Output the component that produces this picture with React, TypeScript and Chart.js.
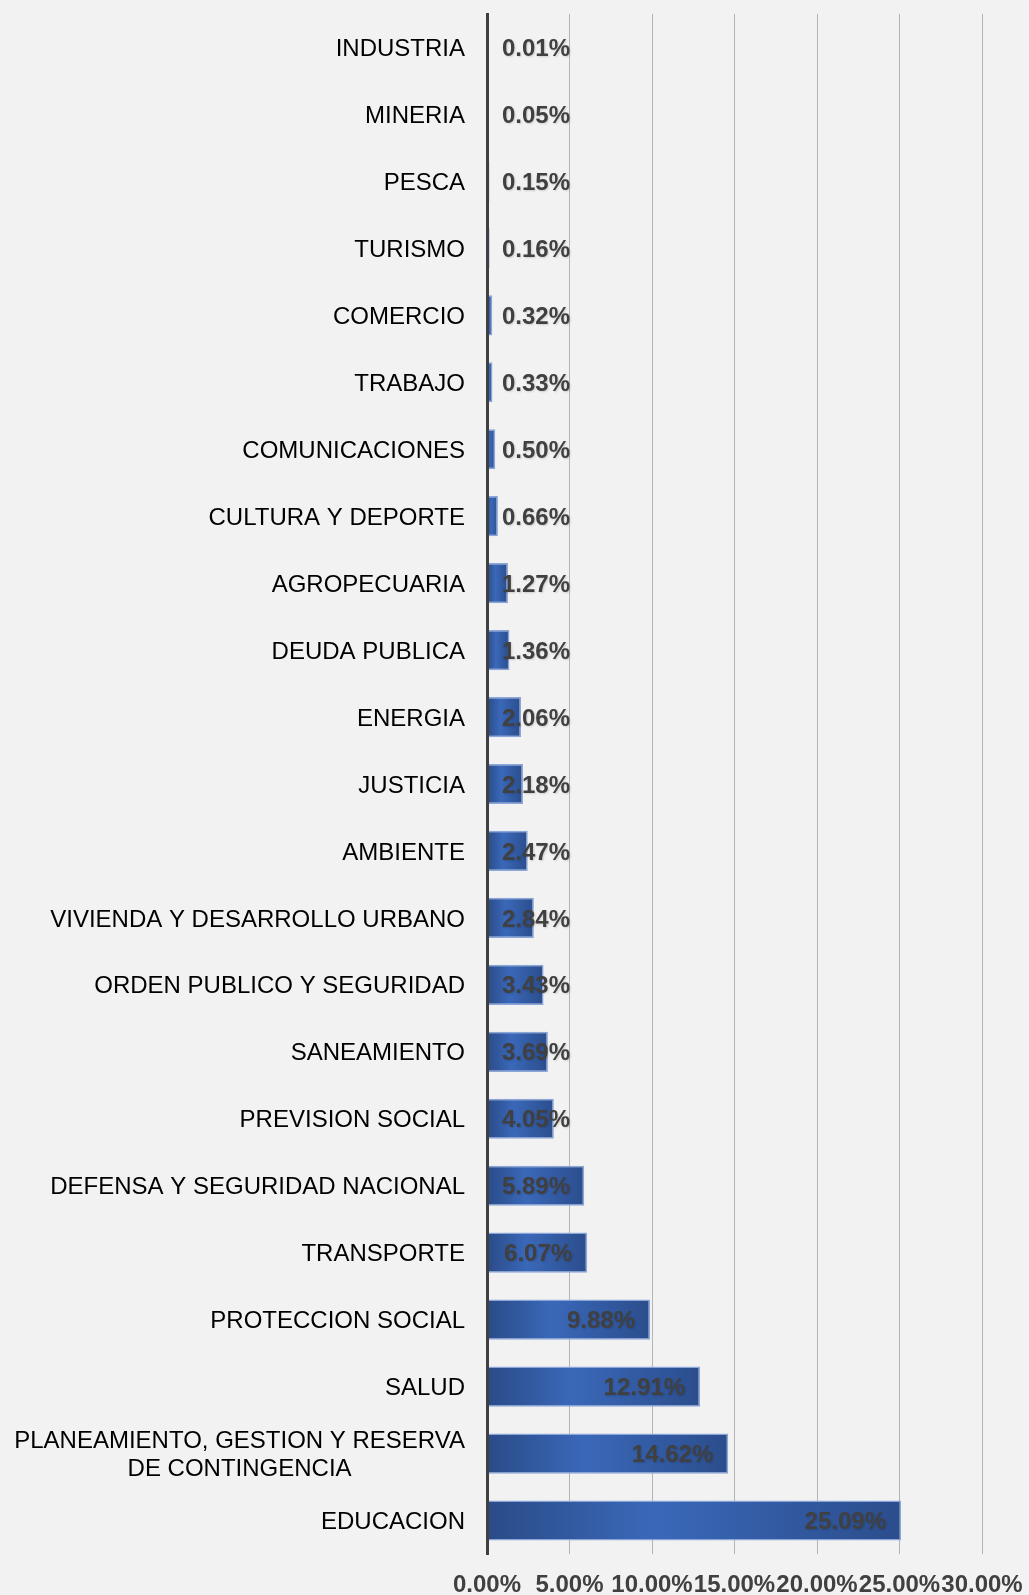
import React, { useEffect, useRef } from 'react';
import { Chart, registerables } from 'chart.js';

Chart.register(...registerables);

const categories: (string | string[])[] = [
  'INDUSTRIA',
  'MINERIA',
  'PESCA',
  'TURISMO',
  'COMERCIO',
  'TRABAJO',
  'COMUNICACIONES',
  'CULTURA Y DEPORTE',
  'AGROPECUARIA',
  'DEUDA PUBLICA',
  'ENERGIA',
  'JUSTICIA',
  'AMBIENTE',
  'VIVIENDA Y DESARROLLO URBANO',
  'ORDEN PUBLICO Y SEGURIDAD',
  'SANEAMIENTO',
  'PREVISION SOCIAL',
  'DEFENSA Y SEGURIDAD NACIONAL',
  'TRANSPORTE',
  'PROTECCION SOCIAL',
  'SALUD',
  ['PLANEAMIENTO, GESTION Y RESERVA', 'DE CONTINGENCIA'],
  'EDUCACION',
];

const values: number[] = [
  0.01, 0.05, 0.15, 0.16, 0.32, 0.33, 0.5, 0.66, 1.27, 1.36, 2.06, 2.18, 2.47,
  2.84, 3.43, 3.69, 4.05, 5.89, 6.07, 9.88, 12.91, 14.62, 25.09,
];

const xMin = 0;
const xMax = 30;
const xStep = 5;

const FONT = '"Liberation Sans", Arial, Helvetica, sans-serif';

const labelsPlugin = {
  id: 'customLabels',
  afterDraw(chart: any) {
    const ctx = chart.ctx as CanvasRenderingContext2D;
    const area = chart.chartArea;
    const ys = chart.scales.y;
    // category labels
    ctx.save();
    ctx.font = `24px ${FONT}`;
    ctx.fillStyle = '#000000';
    ctx.textAlign = 'center';
    ctx.textBaseline = 'middle';
    categories.forEach((c, i) => {
      const lines = Array.isArray(c) ? c : [c];
      const y = ys.getPixelForTick(i) + 2;
      const widest = Math.max(...lines.map((l) => ctx.measureText(l).width));
      const cx = area.left - 22 - widest / 2;
      lines.forEach((l, j) => {
        ctx.fillText(l, cx, y + (j - (lines.length - 1) / 2) * 28);
      });
    });
    ctx.restore();

    // data labels
    const meta = chart.getDatasetMeta(0);
    ctx.save();
    ctx.font = `bold 24px ${FONT}`;
    ctx.fillStyle = '#404040';
    ctx.textAlign = 'left';
    ctx.textBaseline = 'middle';
    ctx.shadowColor = 'rgba(0,0,0,0.15)';
    ctx.shadowBlur = 2;
    ctx.shadowOffsetX = 1;
    ctx.shadowOffsetY = 1;
    meta.data.forEach((bar: any, i: number) => {
      const text = values[i].toFixed(2) + '%';
      const w = ctx.measureText(text).width;
      const left = Math.max(area.left + 15, bar.x - 15 - w);
      ctx.fillText(text, left, bar.y + 2);
    });
    ctx.restore();
  },
};

export default function App() {
  const canvasRef = useRef<HTMLCanvasElement | null>(null);

  useEffect(() => {
    document.body.style.margin = '0';
    document.body.style.background = '#f2f2f2';
    const canvas = canvasRef.current;
    if (!canvas) return;
    const chart = new Chart(canvas, {
      type: 'bar',
      data: {
        labels: categories.map((c) => (Array.isArray(c) ? c.join(' ') : c)),
        datasets: [
          {
            data: values,
            backgroundColor: (ctx: any) => {
              const chart = ctx.chart;
              const xs = chart.scales && chart.scales.x;
              const fallback = '#3560ab';
              if (!chart.chartArea || !xs || ctx.raw == null) return fallback;
              const x0 = xs.getPixelForValue(0);
              const x1 = xs.getPixelForValue(ctx.raw);
              if (!isFinite(x0) || !isFinite(x1) || x1 - x0 < 2) return fallback;
              const g = chart.ctx.createLinearGradient(x0, 0, x1, 0);
              g.addColorStop(0, '#2a4b87');
              g.addColorStop(0.4, '#3a68b9');
              g.addColorStop(1, '#2b4d8c');
              return g;
            },
            borderColor: '#8aa6d8',
            borderWidth: 1.5,
            borderSkipped: false,
            barPercentage: 0.6,
            categoryPercentage: 1,
          } as any,
        ],
      },
      options: {
        indexAxis: 'y',
        responsive: false,
        animation: false,
        devicePixelRatio: 1,
        layout: { padding: { top: 14, right: 47, bottom: 0, left: 0 } },
        plugins: {
          legend: { display: false },
          tooltip: { enabled: false },
          title: { display: false },
        },
        scales: {
          x: {
            type: 'linear',
            min: xMin,
            max: xMax,
            ticks: {
              stepSize: xStep,
              callback: (v: any) => Number(v).toFixed(2) + '%',
              font: { family: FONT, size: 24, weight: 'bold' },
              color: '#404040',
              padding: 17,
              maxRotation: 0,
              autoSkip: false,
            },
            grid: {
              color: (c: any) => (c.tick && c.tick.value === 0 ? 'rgba(0,0,0,0)' : '#b4b4b4'),
              lineWidth: 1,
              drawTicks: false,
            },
            border: { display: false },
            afterFit: (s: any) => {
              s.height = 41;
              s.paddingLeft = 0;
              s.paddingRight = 0;
            },
          },
          y: {
            ticks: { display: false },
            grid: { display: false, drawTicks: false },
            border: { display: true, color: '#404040', width: 3, z: 1 },
            afterFit: (s: any) => {
              s.width = 487;
              s.paddingTop = 0;
              s.paddingBottom = 0;
            },
          },
        },
      } as any,
      plugins: [labelsPlugin],
    });
    return () => chart.destroy();
  }, []);

  return (
    <div
      style={{
        position: 'absolute',
        left: 0,
        top: 0,
        width: 1029,
        height: 1595,
        background: '#f2f2f2',
      }}
    >
      <canvas ref={canvasRef} width={1029} height={1595} style={{ display: 'block' }} />
    </div>
  );
}
